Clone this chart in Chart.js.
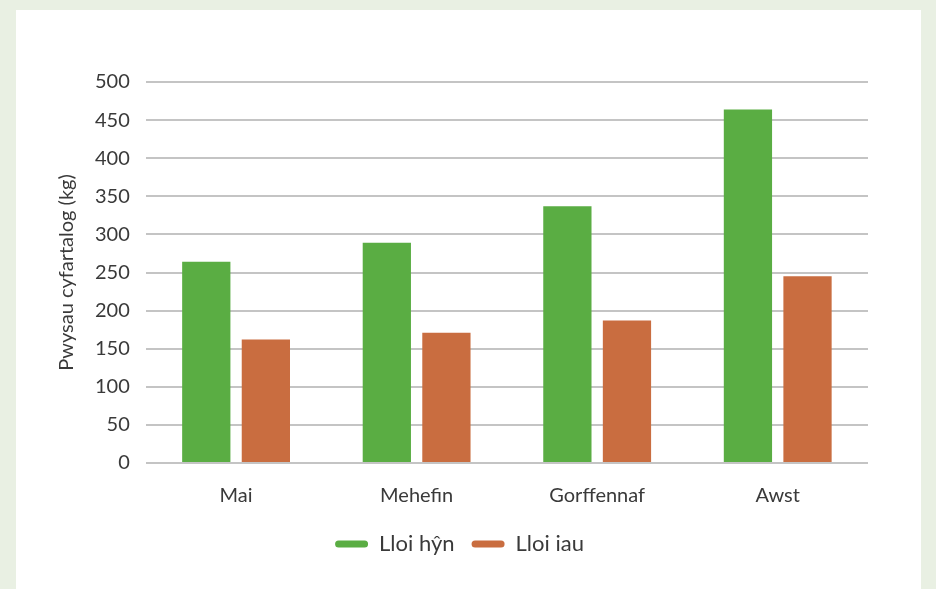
<!DOCTYPE html>
<html>
<head>
<meta charset="utf-8">
<script src="https://cdn.jsdelivr.net/npm/chart.js@4.4.0/dist/chart.umd.min.js"></script>
<style>
    html, body { margin: 0; padding: 0; }
    body { width: 936px; height: 589px; background: #e9f0e3; overflow: hidden; position: relative; }
    #panel { position: absolute; left: 16px; top: 10px; width: 905px; height: 579px; background: #ffffff; }
    #wrap { position: relative; width: 905px; height: 579px; }
</style>
</head>
<body>
<div id="panel"><div id="wrap"><canvas id="weightChart"></canvas></div></div>
<script>
// Average calf weight per month
const months = ['Mai', 'Mehefin', 'Gorffennaf', 'Awst'];
const olderCalves = [264, 289, 337, 464];
const youngerCalves = [162, 171, 187, 245];
const yTicks = [0, 50, 100, 150, 200, 250, 300, 350, 400, 450, 500];

const green = '#5aad43';
const orange = '#c96d40';
const textColor = '#3a3a3a';

document.addEventListener('DOMContentLoaded', function() {
    const ctx = document.getElementById('weightChart').getContext('2d');
    Chart.defaults.font.family = 'Lato, "Open Sans", sans-serif';
    Chart.defaults.color = textColor;

    new Chart(ctx, {
        type: 'bar',
        data: {
            labels: months,
            datasets: [{
                label: 'Lloi hŷn',
                data: olderCalves,
                backgroundColor: green,
                borderWidth: 0
            }, {
                label: 'Lloi iau',
                data: youngerCalves,
                backgroundColor: orange,
                borderWidth: 0
            }]
        },
        options: {
            responsive: true,
            maintainAspectRatio: false,
            animation: false,
            categoryPercentage: 0.66,
            barPercentage: 0.81,
            layout: {
                padding: { left: 35, right: 53, top: 72, bottom: 24 }
            },
            scales: {
                x: {
                    grid: { display: false, drawTicks: false },
                    border: { display: false },
                    ticks: { font: { size: 20 }, padding: 21, color: textColor },
                    // pull the legend a little closer to the month labels
                    afterFit: function(axis) {
                        axis.height -= 13;
                    }
                },
                y: {
                    min: 0,
                    max: 500,
                    afterBuildTicks: function(axis) {
                        axis.ticks = yTicks.map(v => ({ value: v }));
                    },
                    grid: { color: '#c4c4c4', lineWidth: 2, drawTicks: false },
                    border: { display: false },
                    ticks: { font: { size: 20 }, padding: 16, color: textColor },
                    title: {
                        display: true,
                        text: 'Pwysau cyfartalog (kg)',
                        font: { size: 20 },
                        color: textColor,
                        padding: { top: 4, bottom: 0 }
                    }
                }
            },
            plugins: {
                legend: {
                    position: 'bottom',
                    labels: {
                        boxWidth: 33,
                        boxHeight: 7,
                        useBorderRadius: true,
                        borderRadius: 3.5,
                        font: { size: 22 },
                        color: textColor,
                        padding: 17
                    }
                },
                tooltip: { enabled: false }
            }
        }
    });
});
</script>
</body>
</html>
